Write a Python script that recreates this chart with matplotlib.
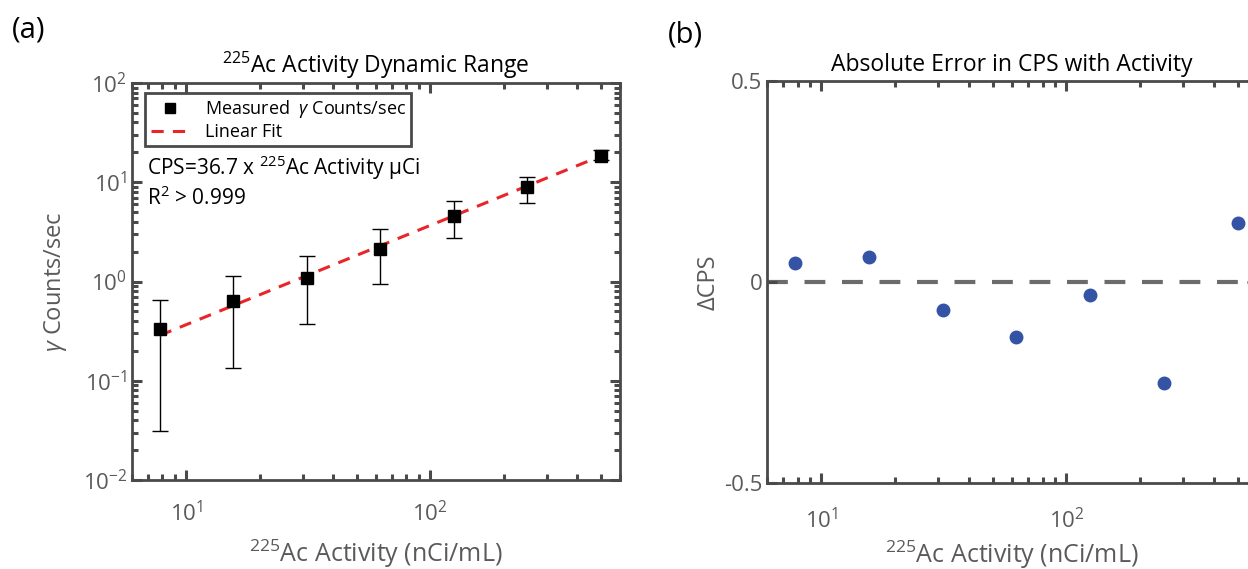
import matplotlib.pyplot as plt
from matplotlib.lines import Line2D
from matplotlib.ticker import LogLocator, FixedLocator

plt.rcParams['font.family'] = ['Open Sans', 'DejaVu Sans']
plt.rcParams['mathtext.fontset'] = 'custom'
plt.rcParams['mathtext.rm'] = 'Open Sans'
plt.rcParams['mathtext.it'] = 'Open Sans:italic'
plt.rcParams['mathtext.bf'] = 'Open Sans:bold'

# 225Ac activity series (nCi/mL) and measured gamma counts
activity = [7.8125, 15.625, 31.25, 62.5, 125, 250, 500]
cps = [0.335, 0.635, 1.08, 2.15, 4.56, 8.9, 18.5]
cps_low = [0.031, 0.134, 0.37, 0.94, 2.74, 6.2, 16.7]
cps_high = [0.65, 1.14, 1.8, 3.37, 6.46, 11.3, 21.0]
fit_slope = 36.7  # CPS per uCi
delta_cps = [0.047, 0.062, -0.070, -0.137, -0.032, -0.251, 0.147]

spine_col = '#4a4a4a'
tick_col = '#5a5a5a'
W, H = 1248, 569

fig = plt.figure(figsize=(12.48, 5.69), dpi=100)
ax1 = fig.add_axes([132 / W, 1 - 480 / H, 488 / W, 397 / H])
ax2 = fig.add_axes([767 / W, 1 - 483 / H, 490 / W, 402 / H])


def style_axes(ax, xpad):
    for s in ax.spines.values():
        s.set_color(spine_col)
        s.set_linewidth(2)
    ax.tick_params(which='both', direction='in', top=True, right=True,
                   colors=spine_col, labelcolor=tick_col, labelsize=16)
    ax.tick_params(which='major', length=7, width=2.2)
    ax.tick_params(which='minor', length=4, width=2.2)
    ax.tick_params(axis='x', pad=xpad)


# (a) dynamic range on log-log axes
yerr = [[c - lo for c, lo in zip(cps, cps_low)],
        [hi - c for c, hi in zip(cps, cps_high)]]
ax1.errorbar(activity, cps, yerr=yerr, fmt='none', ecolor='black',
             elinewidth=1, capsize=6, capthick=1, zorder=2)
fit = [fit_slope * a / 1000 for a in activity]
ax1.plot(activity, fit, '--', color='#e8262a', lw=2.2, dashes=(4, 3), zorder=3)
ax1.plot(activity, cps, 's', color='black', ms=8, zorder=4)
ax1.set_xscale('log')
ax1.set_yscale('log')
ax1.set_xlim(6, 600)
ax1.set_ylim(1e-2, 1e2)
ax1.yaxis.set_major_locator(LogLocator(base=10, numticks=10))
ax1.yaxis.set_minor_locator(LogLocator(base=10, subs=range(2, 10), numticks=10))
style_axes(ax1, 15)
ax1.set_title('$^{225}$Ac Activity Dynamic Range', fontsize=16.5, pad=7)
ax1.set_xlabel('$^{225}$Ac Activity (nCi/mL)', fontsize=18, color=tick_col, labelpad=8)
ax1.set_ylabel(r'$\gamma$ Counts/sec', fontsize=17, color=tick_col, labelpad=10)

handles = [Line2D([], [], marker='s', ls='none', color='black', ms=7),
           Line2D([], [], ls='--', color='#e8262a', lw=2.2, dashes=(4, 3))]
leg = ax1.legend(handles, [r'Measured  $\gamma$ Counts/sec', 'Linear Fit'],
                 loc='upper left', bbox_to_anchor=(0.027, 0.975), borderaxespad=0,
                 fontsize=13, fancybox=False, framealpha=1, handlelength=2.2,
                 labelspacing=0.15, borderpad=0.3)
leg.get_frame().set_edgecolor(spine_col)
leg.get_frame().set_linewidth(2)

ax1.text(0.03, 0.768, 'CPS=36.7 x $^{225}$Ac Activity µCi', transform=ax1.transAxes,
         fontsize=15)
ax1.text(0.03, 0.693, 'R$^2$ > 0.999', transform=ax1.transAxes, fontsize=15)

# (b) residuals
ax2.axhline(0, color='#6b6b6b', lw=3, dashes=(5, 4), zorder=1)
ax2.plot(activity, delta_cps, 'o', color='#3553a5', ms=9, zorder=3)
ax2.set_xscale('log')
ax2.set_xlim(6, 600)
ax2.set_ylim(-0.5, 0.5)
ax2.yaxis.set_major_locator(FixedLocator([-0.5, 0, 0.5]))
ax2.set_yticklabels(['-0.5', '0', '0.5'])
style_axes(ax2, 18)
ax2.set_title('Absolute Error in CPS with Activity', fontsize=16.5, pad=7)
ax2.set_xlabel('$^{225}$Ac Activity (nCi/mL)', fontsize=18, color=tick_col, labelpad=4)
ax2.set_ylabel('ΔCPS', fontsize=17, color=tick_col, labelpad=2)

fig.text(12 / W, 1 - 30 / H, '(a)', fontsize=21, va='center')
fig.text(668 / W, 1 - 35 / H, '(b)', fontsize=21, va='center')

fig.savefig('out.png', dpi=100)
